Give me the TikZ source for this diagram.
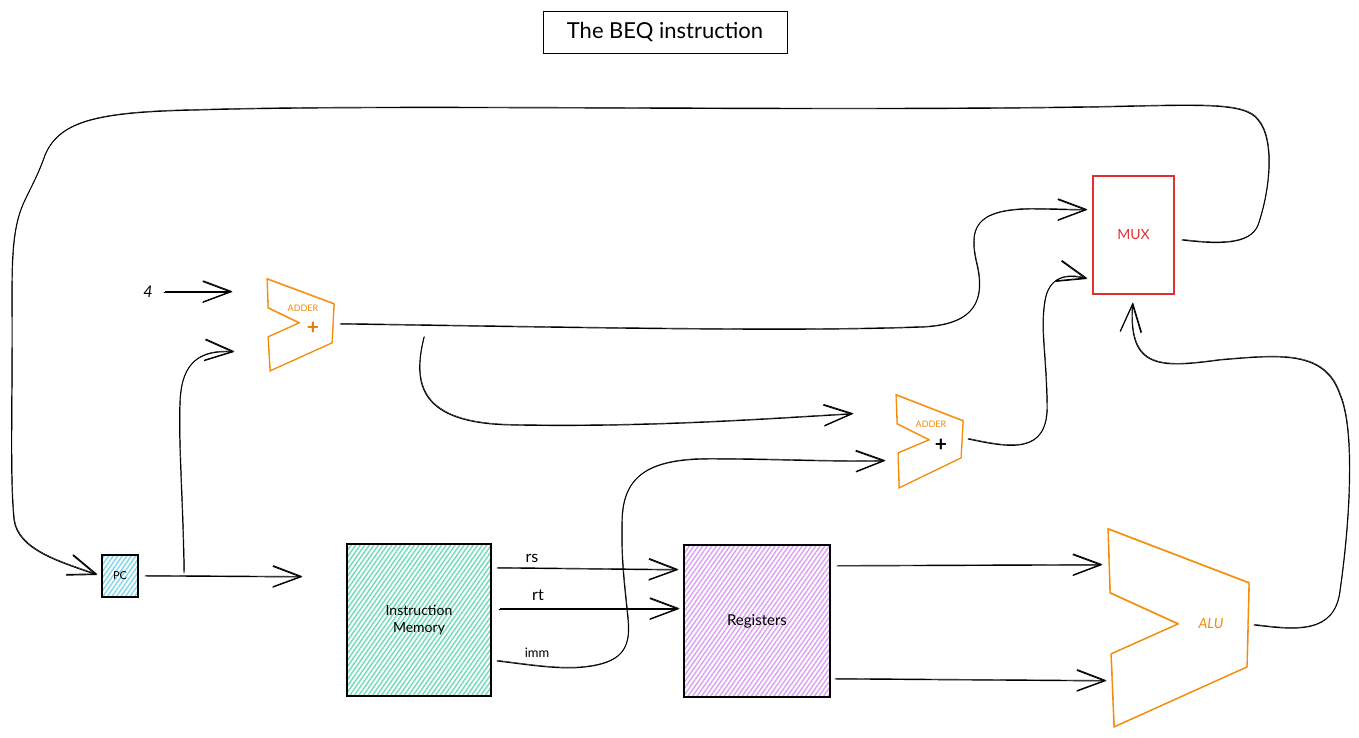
\documentclass[tikz,border=0pt]{standalone}
\usepackage{fontspec}
\setmainfont{Lato}
\usetikzlibrary{arrows.meta,patterns.meta,calc}
\definecolor{orng}{HTML}{F58A07}
\definecolor{orngd}{HTML}{E8770A}
\definecolor{muxred}{HTML}{E03131}
\definecolor{hteal}{HTML}{6FDCB8}
\definecolor{hpurp}{HTML}{DBA0F4}
\definecolor{hcyan}{HTML}{7FD8E8}
\tikzset{
  sk/.style={preaction={draw=#1,line width=.45pt,transform canvas={shift={(.5pt,.7pt)}}}},
  wire/.style={draw=black,line width=.95pt,sk=black,line cap=round,line join=round},
  arrow wire/.style={wire,-{Straight Barb[length=28pt,width=21pt,line width=.95pt]}},
  box/.style={draw=black,line width=1.2pt,inner sep=0pt,outer sep=0pt},
  hatched/.style={box,pattern={Lines[angle=55,distance=3.7pt,line width=1.4pt]},pattern color=#1},
  lbl/.style={inner sep=0pt,outer sep=0pt,font=\fontsize{#1}{#1}\selectfont,align=center},
  extent/.style={inner sep=0pt,outer sep=0pt},
  block/.style={draw=orng,line width=1.1pt,line join=miter,sk=orng}
}
\begin{document}
\begin{tikzpicture}[x=1pt,y=-1pt]
\useasboundingbox (0,0) rectangle (1359,737);
\fill[white] (0,0) rectangle (1359,737);
% title
\node[box,line width=1pt,minimum width=244pt,minimum height=42pt,font=\fontsize{22}{22}\selectfont] (title) at (665,32) {The BEQ instruction};
% boxes
\node[hatched=hcyan,minimum width=36pt,minimum height=42pt,font=\fontsize{11}{11}\selectfont] (pc) at (120,576) {PC};
\node[hatched=hteal,minimum width=144pt,minimum height=152pt,align=center,font=\fontsize{14}{17}\selectfont] (imem) at (419,620) {Instruction\\Memory};
\node[hatched=hpurp,minimum width=146pt,minimum height=152pt,font=\fontsize{15}{15}\selectfont] (regs) at (757,621) {Registers};
\node[draw=muxred,text=muxred,line width=1.1pt,sk=muxred,inner sep=0pt,outer sep=0pt,minimum width=81pt,minimum height=118pt,font=\fontsize{14}{14}\selectfont] (mux) at (1133.5,235) {MUX};
% extents of the three block shapes
\node[extent,minimum width=67pt,minimum height=92pt] (adda) at (300.5,325) {};
\node[extent,minimum width=67pt,minimum height=93pt] (addb) at (929.5,441.5) {};
\node[extent,minimum width=142pt,minimum height=198pt] (alu) at (1179,628) {};
% block shapes
\draw[block] (267,279) -- (334,304) -- (332,343) -- (270,371) -- (268,337) -- (299,323) -- (268,308) -- cycle;
\draw[block] (896,395) -- (963,421) -- (961,458) -- (899,488) -- (898,453) -- (929,440) -- (897,424) -- cycle;
\draw[block,line width=1.3pt] (1108,529) -- (1249,583) -- (1247,667) -- (1114,727) -- (1111,654) -- (1178,624) -- (1110,593) -- cycle;
% block labels
\node[lbl=9,text=orng] (addaT) at (303,308) {ADDER};
\node[lbl=21,text=orngd,font=\fontsize{21}{21}\selectfont\bfseries] (addaP) at (313,328) {+};
\node[lbl=9,text=orng] (addbT) at (931,424) {ADDER};
\node[lbl=21,font=\fontsize{21}{21}\selectfont\bfseries] (addbP) at (941,445) {+};
\node[lbl=14,text=orng,font=\fontsize{14}{14}\selectfont\itshape] (aluT) at (1211,624) {ALU};
% text labels
\node[lbl=15,font=\fontsize{16}{16}\selectfont\itshape] (four) at (148,292) {4};
\node[lbl=16] (rs) at (532,558) {rs};
\node[lbl=16] (rt) at (538,595) {rt};
\node[lbl=13] (imm) at (537,653) {imm};
% straight connectors
\draw[arrow wire] ([shift={(16,0)}]four.center) -- ([shift={(-35,13)}]adda.north west);
\draw[arrow wire] ([shift={(7,0)}]pc.east) -- ([shift={(-45,33)}]imem.north west);
\draw[arrow wire] ([shift={(6,24)}]imem.north east) -- ([shift={(-6,25)}]regs.north west);
\draw[arrow wire] ([shift={(8,65)}]imem.north east) -- ([shift={(-5,64)}]regs.north west);
\draw[arrow wire] ([shift={(7,21)}]regs.north east) -- ([shift={(-6,36)}]alu.north west);
\draw[arrow wire] ([shift={(5,134)}]regs.north east) -- ([shift={(-2,152)}]alu.north west);
% curved connectors
\draw[arrow wire] ([shift={(46,-3)}]pc.east) .. controls (183,500) and (178,440) .. (180,400)
   .. controls (182,362) and (200,350) .. ([shift={(-33,73)}]adda.north west);
\draw[arrow wire] ([shift={(6,45)}]adda.north east) .. controls (600,328) and (800,332) .. (925,327)
   .. controls (975,324) and (985,300) .. (977,265)
   .. controls (968,228) and (975,210) .. (1030,209)
   .. controls (1050,209) and (1070,210) .. ([shift={(-6,34)}]mux.north west);
\draw[arrow wire] ([shift={(90,58)}]adda.north east) .. controls (412,385) and (420,423) .. (510,425)
   .. controls (650,428) and (780,418) .. ([shift={(-43,19)}]addb.north west);
\draw[arrow wire] ([shift={(6,117)}]imem.north east) .. controls (530,665) and (560,670) .. (585,667)
   .. controls (620,663) and (631,650) .. (628,620)
   .. controls (624,580) and (621,560) .. (622,520)
   .. controls (623,475) and (650,459) .. (710,459)
   .. controls (770,459) and (830,462) .. ([shift={(-11,66)}]addb.north west);
\draw[arrow wire] ([shift={(5,44)}]addb.north east) .. controls (1010,448) and (1048,455) .. (1047,405)
   .. controls (1046,350) and (1040,330) .. (1045,300)
   .. controls (1049,278) and (1065,273) .. ([shift={(-6,103)}]mux.north west);
\draw[arrow wire] ([shift={(4,96)}]alu.north east) .. controls (1295,630) and (1335,635) .. (1340,590)
   .. controls (1350,520) and (1355,430) .. (1340,395)
   .. controls (1325,350) and (1280,355) .. (1220,360)
   .. controls (1160,368) and (1128,370) .. ([shift={(-1,9)}]mux.south);
\draw[arrow wire] ([shift={(8,64)}]mux.north east) .. controls (1215,244) and (1250,246) .. (1258,225)
   .. controls (1270,190) and (1275,140) .. (1258,120)
   .. controls (1245,102) and (1200,105) .. (1100,107)
   .. controls (800,112) and (400,104) .. (200,110)
   .. controls (100,112) and (60,120) .. (45,155)
   .. controls (38,175) and (32,185) .. (25,200)
   .. controls (10,230) and (12,270) .. (12,330)
   .. controls (12,420) and (10,480) .. (14,520)
   .. controls (18,550) and (60,562) .. ([shift={(-5,-1)}]pc.west);
\end{tikzpicture}
\end{document}
